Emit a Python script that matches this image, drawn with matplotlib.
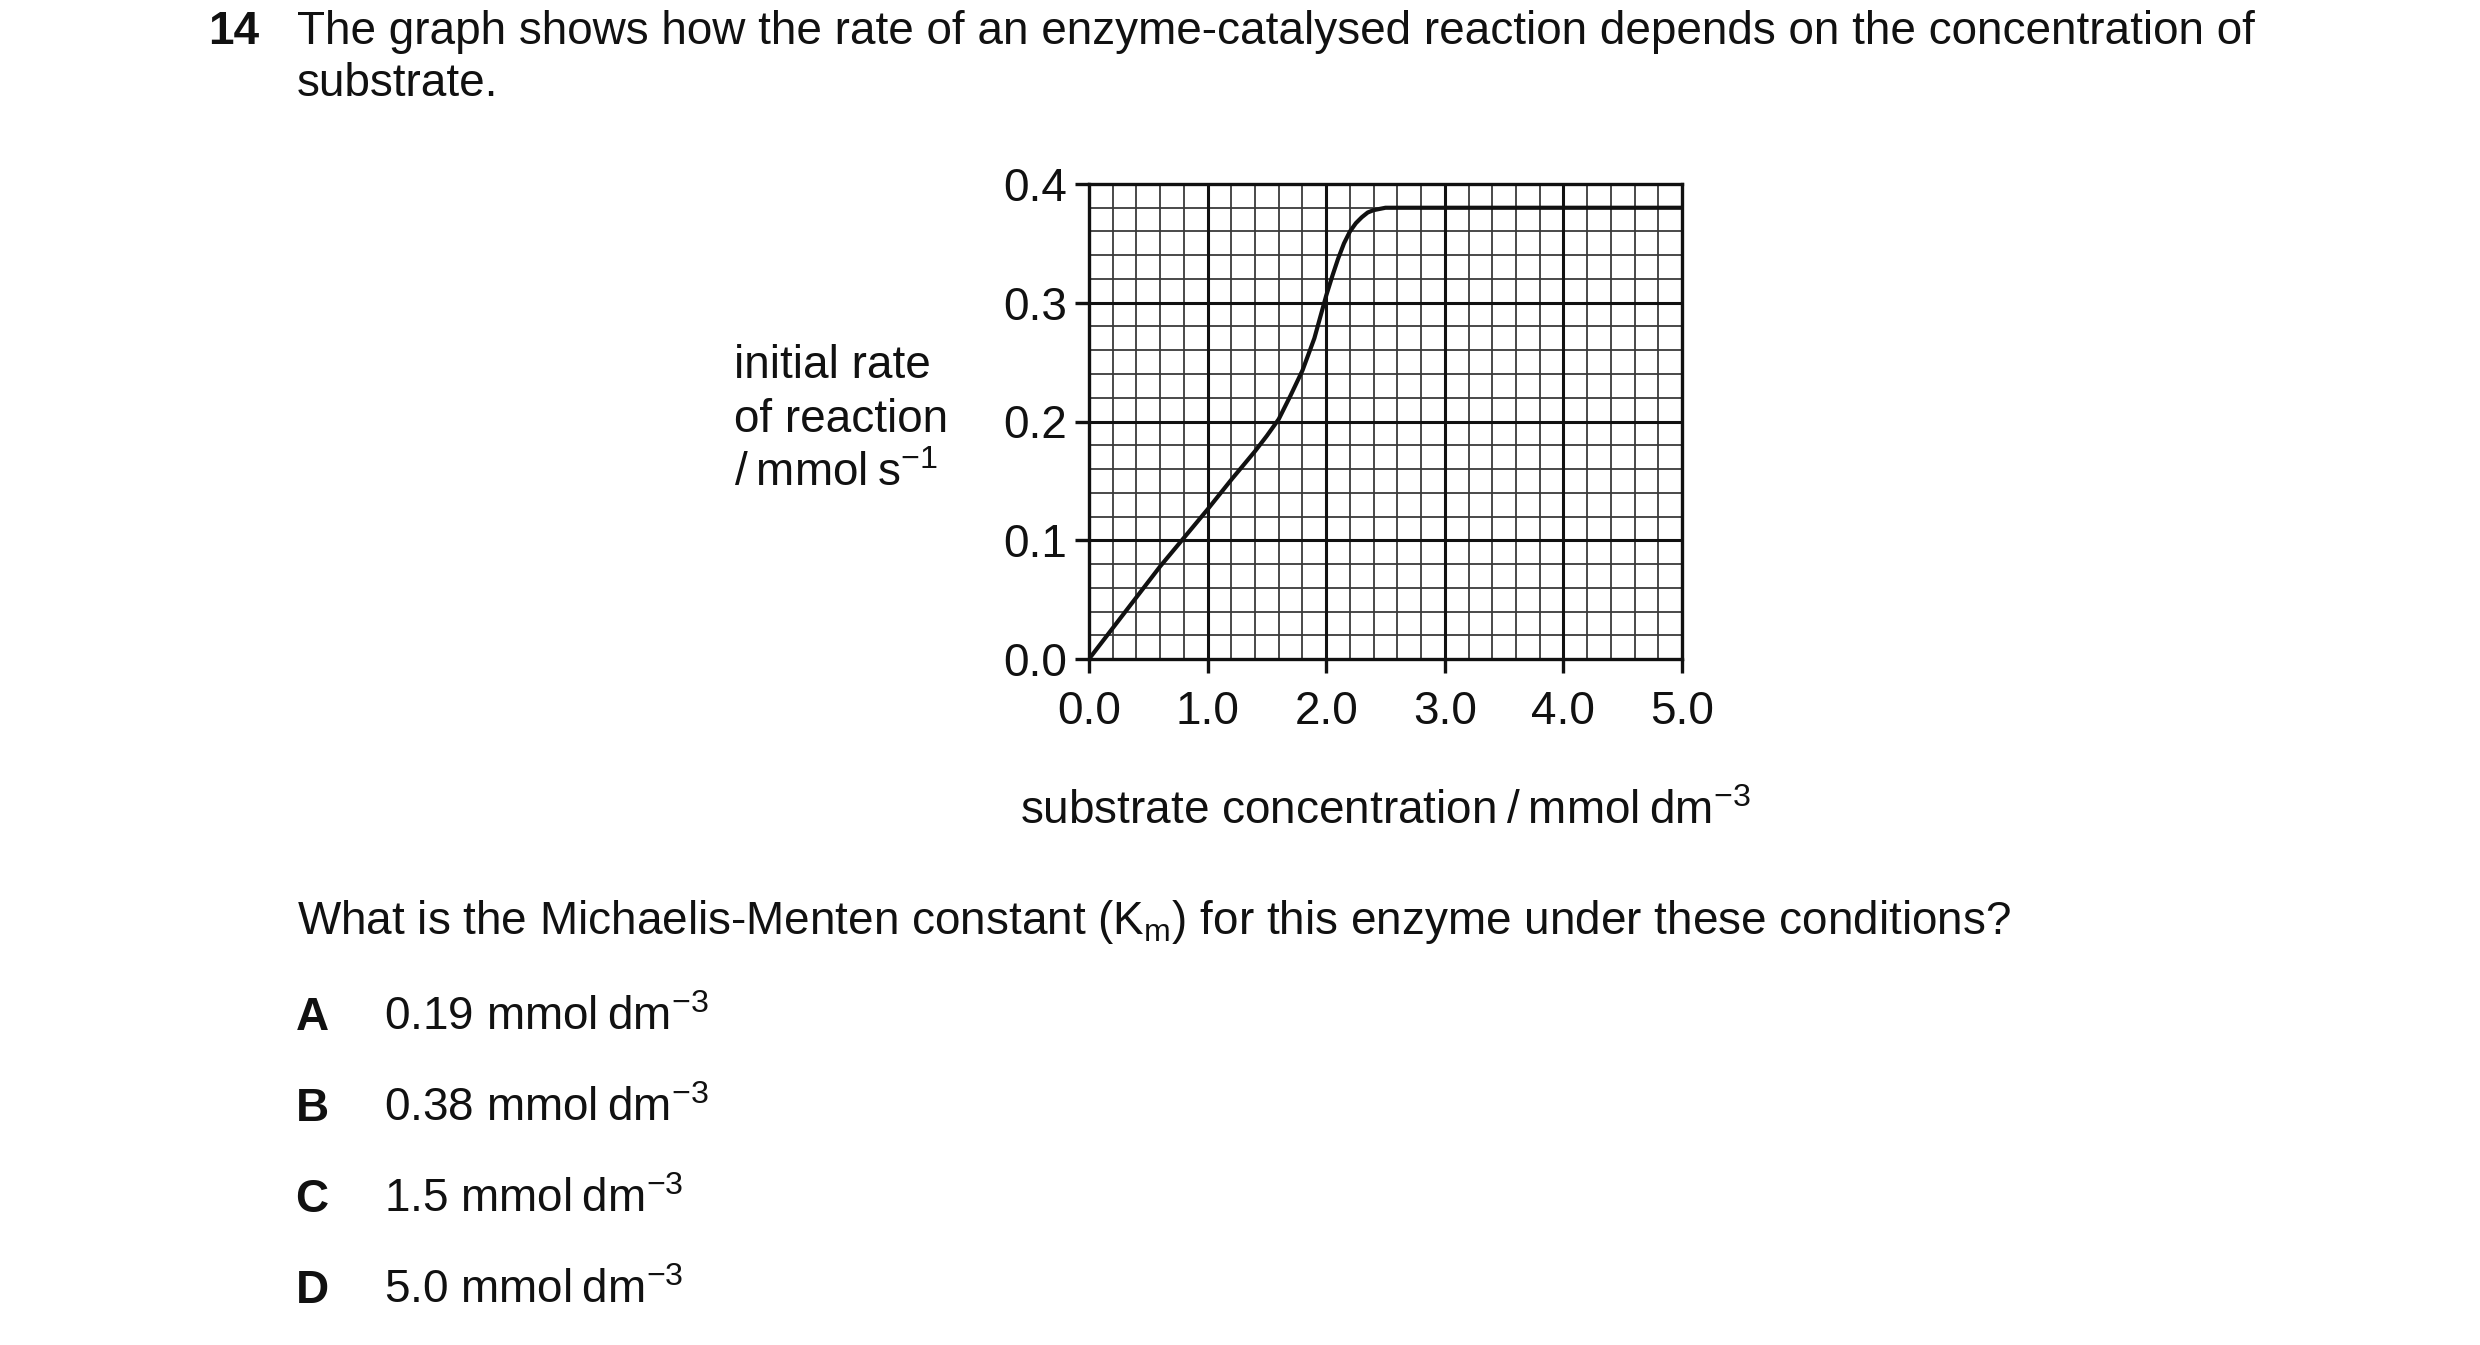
import numpy as np
import matplotlib.pyplot as plt

plt.rcParams['font.family'] = ['Liberation Sans', 'DejaVu Sans']
plt.rcParams['mathtext.fontset'] = 'custom'
plt.rcParams['mathtext.rm'] = 'Liberation Sans'
plt.rcParams['mathtext.it'] = 'Liberation Sans:italic'
plt.rcParams['mathtext.bf'] = 'Liberation Sans:bold'

# values
substrate = [0.0, 0.2, 0.4, 0.6, 0.8, 1.0, 1.2, 1.4, 1.5, 1.6, 1.7, 1.8, 1.9,
             2.0, 2.05, 2.1, 2.15, 2.2, 2.25, 2.3, 2.35, 2.4, 2.5, 5.0]
rate = [0.0, 0.026, 0.052, 0.078, 0.102, 0.126, 0.151, 0.175, 0.188, 0.202,
        0.222, 0.243, 0.270, 0.306, 0.322, 0.337, 0.350, 0.360, 0.367, 0.372,
        0.376, 0.378, 0.380, 0.380]

x_ticks = [0.0, 1.0, 2.0, 3.0, 4.0, 5.0]
y_ticks = [0.0, 0.1, 0.2, 0.3, 0.4]

TS = "\u2009"  # thin space
question = "14"
intro = ["The graph shows how the rate of an enzyme-catalysed reaction depends on the concentration of",
         "substrate."]
ylabel_lines = ["initial rate", "of reaction", "/" + TS + "mmol" + TS + "s$^{\\mathrm{-1}}$"]
xlabel = "substrate concentration" + TS + "/" + TS + "mmol" + TS + "dm$^{\\mathrm{-3}}$"
ask = "What is the Michaelis-Menten constant (K$_{\\mathrm{m}}$) for this enzyme under these conditions?"
option_keys = ["A", "B", "C", "D"]
option_vals = ["0.19 mmol" + TS + "dm$^{\\mathrm{-3}}$", "0.38 mmol" + TS + "dm$^{\\mathrm{-3}}$",
               "1.5 mmol" + TS + "dm$^{\\mathrm{-3}}$", "5.0 mmol" + TS + "dm$^{\\mathrm{-3}}$"]

W, H = 2480, 1345
FS = 33
INK = '#111111'


def px(x, y):
    return x / W, 1 - y / H


fig = plt.figure(figsize=(W / 100, H / 100), dpi=100)

# axes box: left 1089, right 1682, top 184, bottom 659 (pixels)
ax = fig.add_axes([1089 / W, 1 - 659 / H, 593 / W, 475 / H])
ax.set_xlim(0, 5)
ax.set_ylim(0, 0.4)

for v in np.arange(0.2, 5.0, 0.2):
    ax.axvline(v, color='#3a3a3a', lw=1.3, zorder=1)
for v in np.arange(0.02, 0.4, 0.02):
    ax.axhline(v, color='#3a3a3a', lw=1.3, zorder=1)
for v in x_ticks[1:-1]:
    ax.axvline(v, color=INK, lw=2.2, zorder=2)
for v in y_ticks[1:-1]:
    ax.axhline(v, color=INK, lw=2.2, zorder=2)

ax.plot(substrate, rate, color=INK, lw=3.0, zorder=3,
        solid_capstyle='round', solid_joinstyle='round')

for s in ax.spines.values():
    s.set_color(INK)
    s.set_linewidth(2.4)
    s.set_zorder(4)

ax.set_xticks(x_ticks)
ax.set_yticks(y_ticks)
ax.set_xticklabels([f"{v:.1f}" for v in x_ticks])
ax.set_yticklabels([f"{v:.1f}" for v in y_ticks])
ax.tick_params(direction='out', length=10, width=2.4, color=INK,
               labelsize=FS, labelcolor=INK, pad=6)
ax.tick_params(axis='x', pad=12)

# text around the chart
fig.text(*px(208, 32), question, fontsize=FS, fontweight='bold', va='center', color=INK)
fig.text(*px(297, 32), intro[0], fontsize=FS, va='center', color=INK)
fig.text(*px(297, 84), intro[1], fontsize=FS, va='center', color=INK)

for i, line in enumerate(ylabel_lines):
    fig.text(*px(734, 366 + i * 54), line, fontsize=FS, va='center', color=INK)

fig.text(*px(1385, 812), xlabel, fontsize=FS, ha='center', va='center', color=INK)
fig.text(*px(297, 922), ask, fontsize=FS, va='center', color=INK)

for i, (k, v) in enumerate(zip(option_keys, option_vals)):
    y = 1018 + i * 91
    fig.text(*px(312, y), k, fontsize=FS, fontweight='bold', ha='center', va='center', color=INK)
    fig.text(*px(384, y), v, fontsize=FS, va='center', color=INK)

fig.savefig('out.png', dpi=100, facecolor='white')
